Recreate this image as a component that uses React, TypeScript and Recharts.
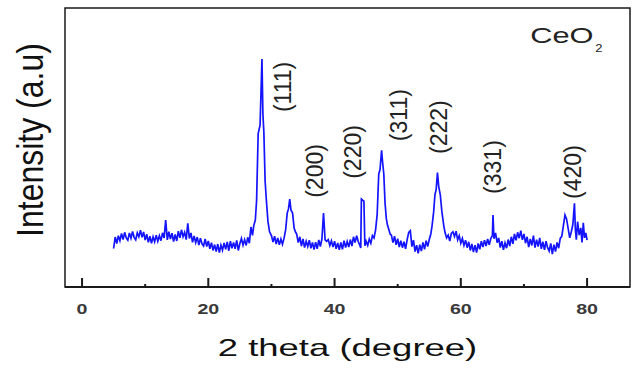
import { LineChart, Line, XAxis, YAxis, ReferenceArea, ReferenceDot } from 'recharts'

// XRD pattern of CeO2 (2θ in degrees, intensity in arbitrary units)
const twoTheta = [
  5, 5.25, 5.5, 5.75, 6, 6.25, 6.5, 6.75, 7, 7.25, 7.5, 7.75, 8, 8.25, 8.5, 8.75, 9, 9.25, 9.5, 9.75,
  10, 10.25, 10.5, 10.75, 11, 11.25, 11.5, 11.75, 12, 12.25, 12.5, 12.75, 13, 13.25, 13.5, 13.75,
  14, 14.25, 14.5, 14.75, 15, 15.25, 15.5, 15.75, 16, 16.25, 16.5, 16.75, 17, 17.25, 17.5, 17.75,
  18, 18.25, 18.5, 18.75, 19, 19.25, 19.5, 19.75, 20, 20.25, 20.5, 20.75, 21, 21.25, 21.5, 21.75,
  22, 22.25, 22.5, 22.75, 23, 23.25, 23.5, 23.75, 24, 24.25, 24.5, 24.75, 25, 25.25, 25.5, 25.75,
  26, 26.25, 26.5, 26.75,
  27, 27.2, 27.45, 27.65, 27.9, 28.2, 28.5, 28.65, 28.8, 29, 29.2, 29.45, 29.7,
  30, 30.25, 30.5, 30.75, 31, 31.25, 31.5, 31.75,
  32, 32.25, 32.5, 32.7, 32.9, 33.1, 33.35, 33.6, 33.85,
  34, 34.25, 34.5, 34.75, 35, 35.25, 35.5, 35.75, 36, 36.25, 36.5, 36.75, 37, 37.25, 37.5, 37.75,
  38, 38.25, 38.5, 38.75, 39, 39.25, 39.5, 39.75, 40, 40.25, 40.5, 40.75, 41, 41.25, 41.5, 41.75,
  42, 42.25, 42.5, 42.75, 43, 43.25, 43.5, 43.75,
  44, 44.15, 44.25, 44.5, 44.65, 44.8, 45, 45.25, 45.5, 45.75,
  46, 46.25, 46.5, 46.75, 47, 47.2, 47.45, 47.6, 47.8, 48, 48.2, 48.4, 48.6, 48.8,
  49, 49.25, 49.5, 49.75, 50, 50.25, 50.5, 50.75, 51, 51.25, 51.5, 51.75, 52, 52.25, 52.5, 52.75,
  53, 53.25, 53.5, 53.75, 54, 54.25, 54.5, 54.75,
  55, 55.25, 55.45, 55.7, 55.9, 56.1, 56.3, 56.5, 56.75, 57, 57.3, 57.5, 57.75,
  58, 58.25, 58.5, 58.75, 59, 59.25, 59.5, 59.75, 60, 60.25, 60.5, 60.75, 61, 61.25, 61.5, 61.75,
  62, 62.25, 62.5, 62.75, 63, 63.25, 63.5, 63.75, 64, 64.25, 64.5, 64.75,
  65, 65.1, 65.25, 65.5, 65.75,
  66, 66.25, 66.5, 66.75, 67, 67.25, 67.5, 67.75, 68, 68.25, 68.5, 68.75, 69, 69.25, 69.5, 69.75,
  70, 70.25, 70.5, 70.75, 71, 71.25, 71.5, 71.75, 72, 72.25, 72.5, 72.75, 73, 73.25, 73.5, 73.75,
  74, 74.25, 74.5, 74.75, 75, 75.25, 75.5, 75.75,
  76, 76.25, 76.5, 76.75, 77, 77.25, 77.5, 77.75, 78, 78.15, 78.3, 78.5, 78.75, 79, 79.2, 79.4, 79.6, 79.8, 80,
]

const intensity = [
  13.8, 17.9, 15.6, 18.4, 16.6, 19.2, 17.0, 19.6, 17.6, 16.8, 19.4, 17.5, 19.9, 17.8, 16.9, 19.4, 18.0, 20.4, 17.8, 19.7,
  16.8, 18.9, 16.0, 18.2, 15.7, 18.0, 16.2, 18.6, 16.4, 18.4, 16.6, 19.4, 17.6, 24.0, 16.9, 19.8,
  17.2, 19.3, 16.3, 18.8, 16.5, 20.0, 17.6, 20.5, 18.0, 19.6, 17.0, 22.8, 17.4, 19.4, 16.0, 18.3,
  15.9, 17.9, 15.0, 17.5, 15.5, 14.7, 17.2, 14.5, 16.5, 13.7, 15.9, 13.1, 15.2, 12.7, 15.4, 12.3,
  15.0, 13.2, 15.8, 13.5, 16.2, 13.0, 16.4, 13.9, 16.0, 13.7, 16.7, 13.1, 15.6, 17.4, 15.0, 17.0,
  14.9, 17.8, 15.7, 21.5,
  18.5, 22.0, 24.0, 31.0, 55.0, 58.0, 81.7, 62.0, 55.6, 38.0, 31.0, 23.5, 19.8,
  18.4, 16.1, 18.2, 15.4, 17.6, 15.1, 17.2, 15.3,
  17.5, 20.5, 26.5, 28.0, 31.5, 27.5, 26.5, 21.0, 19.5,
  19.0, 15.9, 18.0, 14.7, 17.2, 14.1, 16.4, 14.5, 16.8, 13.9, 16.0, 13.4, 16.1, 13.7, 16.9, 14.5,
  17.2, 26.5, 16.9, 16.4, 17.0, 14.9, 16.6, 14.3, 16.4, 13.7, 15.8, 13.3, 16.0, 13.5, 16.6, 14.1,
  16.3, 14.3, 17.0, 14.7, 18.0, 15.9, 18.4, 16.3,
  15.0, 14.0, 31.5, 31.0, 30.8, 14.8, 16.4, 14.9, 17.2, 15.7,
  18.4, 17.6, 20.5, 26.0, 40.5, 42.0, 49.0, 45.0, 40.5, 30.0, 24.5, 22.0, 20.6, 19.0,
  18.6, 15.9, 18.2, 15.1, 17.3, 14.3, 16.6, 14.1, 16.2, 13.7, 17.0, 19.6, 20.2, 14.5, 16.8, 12.7,
  15.0, 12.1, 15.2, 12.9, 16.0, 13.5, 16.6, 14.5,
  17.0, 19.0, 22.0, 27.0, 33.0, 35.0, 41.0, 36.0, 33.0, 27.0, 22.0, 19.5, 17.6,
  18.6, 16.5, 19.2, 19.8, 18.1, 20.0, 16.9, 18.4, 15.7, 17.4, 14.9, 16.8, 14.1, 16.2, 13.1, 15.4,
  12.5, 15.0, 12.3, 15.6, 13.5, 16.4, 14.3, 16.8, 14.7, 17.2, 15.1, 17.4,
  18.4, 25.8, 17.3, 19.4, 15.9,
  17.6, 14.1, 16.4, 13.3, 15.8, 13.9, 17.0, 14.7, 18.0, 15.5, 19.0, 16.7, 19.6, 17.5, 20.2, 16.9,
  19.0, 15.7, 18.0, 14.3, 17.2, 14.9, 18.4, 14.1, 17.0, 14.5, 17.6, 13.7, 16.2, 13.3, 16.4, 14.1,
  12.9, 15.6, 11.8, 15.2, 12.7, 16.0, 13.9, 17.4,
  18.2, 22.0, 25.8, 24.4, 21.0, 17.6, 19.8, 22.4, 30.0, 20.5, 17.0, 23.4, 18.6, 21.2, 16.0, 23.0, 17.6, 19.4, 16.8,
]

// Miller index labels and where they sit (2θ, intensity)
const peakHkl = ['(111)', '(200)', '(220)', '(311)', '(222)', '(331)', '(420)']
const peakLabelTheta = [31.84, 36.9, 43.0, 50.2, 56.6, 65.1, 77.8]
const peakLabelY = [71.7, 41.6, 48.4, 61.6, 57.3, 43.0, 41.2]

const xTicks = [0, 10, 20, 30, 40, 50, 60, 70, 80]

const data = twoTheta.map((t, i) => ({ theta: t, intensity: intensity[i] }))

const FONT = 'Liberation Sans, Arial, sans-serif'
const INK = '#1a1a1a'

function XTick({ x, y, payload }: any) {
  const major = payload.value % 20 === 0
  return (
    <g>
      <line x1={x} x2={x} y1={y} y2={y - (major ? 9 : 3)} stroke={INK} strokeWidth={2} />
      {major && (
        <text
          transform={`translate(${x},${y + 27}) scale(1.4,1)`}
          textAnchor="middle"
          fontFamily={FONT}
          fontWeight="bold"
          fontSize={14}
          fill="#3a3a3a"
        >
          {payload.value}
        </text>
      )}
    </g>
  )
}

// both axis titles, drawn in the chart's svg
function AxisTitles() {
  return (
    <g>
      <text
        transform="translate(347.5,356) scale(1.52,1)"
        textAnchor="middle"
        fontFamily={FONT}
        fontSize={24}
        fill="#111"
      >
        2 theta (degree)
      </text>
      <text
        transform="translate(43,140) rotate(-90) scale(1,1.15)"
        textAnchor="middle"
        fontFamily={FONT}
        fontSize={32}
        fill="#111"
      >
        Intensity (a.u)
      </text>
    </g>
  )
}

export default function App() {
  return (
    <div style={{ position: 'absolute', left: 0, top: 0, background: '#fff' }}>
      <LineChart width={634} height={371} data={data} margin={{ top: 8, right: 4, bottom: 0, left: 65 }}>
        <XAxis
          type="number"
          dataKey="theta"
          domain={[-2.7, 86.8]}
          ticks={xTicks}
          interval={0}
          allowDataOverflow
          height={84}
          tickSize={0}
          tickMargin={0}
          tickLine={false}
          axisLine={{ stroke: INK, strokeWidth: 2 }}
          tick={<XTick />}
          label={{ content: () => <AxisTitles /> }}
        />
        <YAxis type="number" domain={[0, 100]} hide allowDataOverflow />
        <ReferenceArea
          x1={-2.7}
          x2={86.8}
          y1={0}
          y2={100}
          fill="none"
          stroke={INK}
          strokeWidth={1.5}
          ifOverflow="visible"
        />
        <Line
          type="linear"
          dataKey="intensity"
          stroke="#1414ff"
          strokeWidth={1.7}
          dot={false}
          isAnimationActive={false}
        />
        {peakHkl.map((hkl, i) => (
          <ReferenceDot
            key={hkl}
            x={peakLabelTheta[i]}
            y={peakLabelY[i]}
            r={0}
            ifOverflow="visible"
            shape={(p: any) => (
              <text
                x={p.cx}
                y={p.cy}
                transform={`rotate(-90 ${p.cx} ${p.cy})`}
                textAnchor="middle"
                dominantBaseline="central"
                fontFamily={FONT}
                fontSize={23}
                fill="#222"
              >
                {hkl}
              </text>
            )}
          />
        ))}
        <ReferenceDot
          x={71.0}
          y={87.5}
          r={0}
          ifOverflow="visible"
          shape={(p: any) => (
            <g>
              <text
                transform={`translate(${p.cx},${p.cy}) scale(1.4,1)`}
                fontFamily={FONT}
                fontSize={22}
                fill="#222"
              >
                CeO
              </text>
              <text
                transform={`translate(${p.cx + 65},${p.cy + 9}) scale(1.3,1)`}
                fontFamily={FONT}
                fontSize={10}
                fill="#222"
              >
                2
              </text>
            </g>
          )}
        />
      </LineChart>
    </div>
  )
}
